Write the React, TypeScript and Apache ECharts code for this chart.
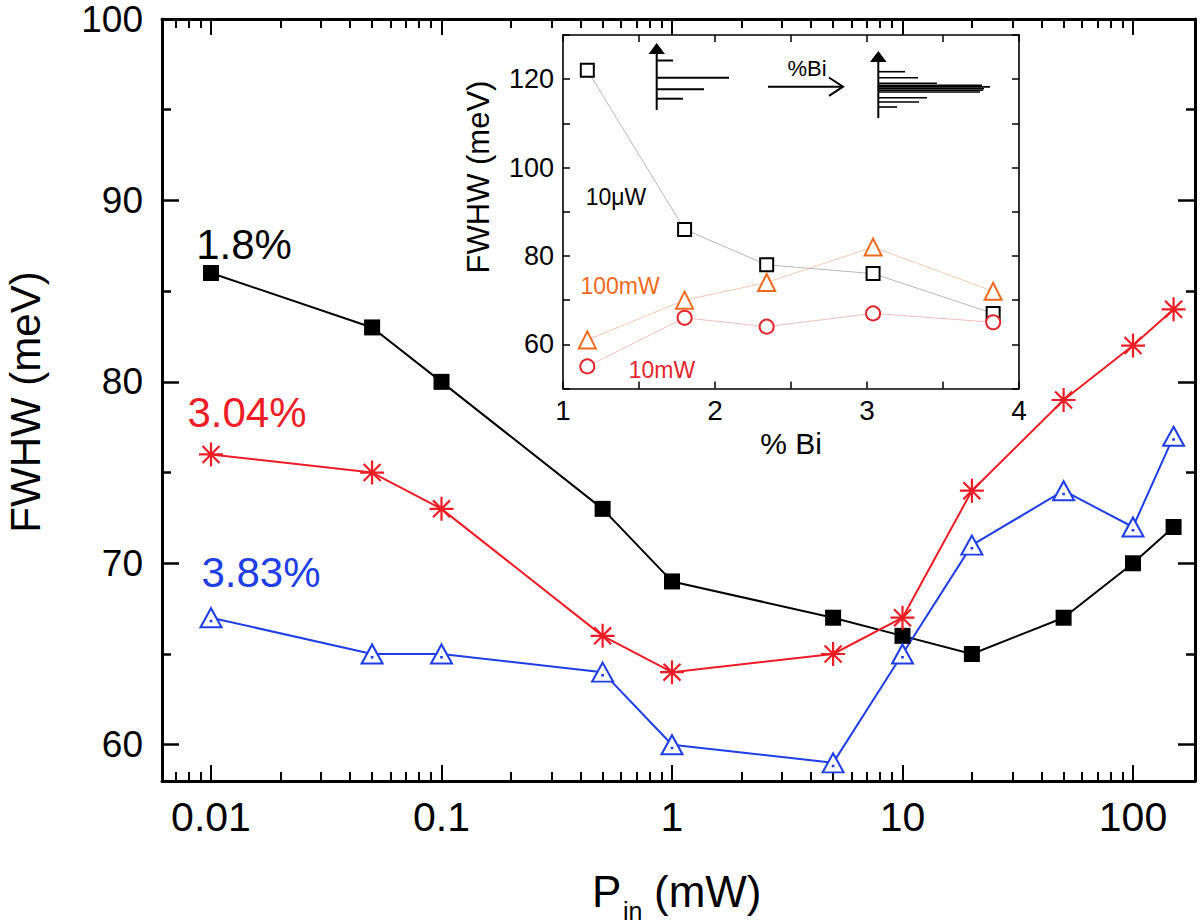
import React, { useEffect, useRef } from 'react';
import * as echarts from 'echarts';

// ---- main plot data ----
const powerMW = [0.01, 0.05, 0.1, 0.5, 1, 5, 10, 20, 50, 100, 150];
const fwhm18 = [86, 83, 80, 73, 69, 67, 66, 65, 67, 70, 72];
const fwhm304 = [76, 75, 73, 66, 64, 65, 67, 74, 79, 82, 84];
const fwhm383 = [67, 65, 65, 64, 60, 59, 65, 71, 74, 72, 77];
const seriesNames = ['1.8%', '3.04%', '3.83%'];

// ---- inset data ----
const biPercent = [1.16, 1.8, 2.34, 3.04, 3.83];
const inset10uW = [122, 86, 78, 76, 67];
const inset100mW = [61, 70, 74, 82, 72];
const inset10mW = [55, 66, 64, 67, 65];
const insetNames = ['10\u03bcW', '100mW', '10mW'];

// ---- tick labels ----
const xTickValues = [0.01, 0.1, 1, 10, 100];
const xTickLabels = ['0.01', '0.1', '1', '10', '100'];
const yMajorTicks = [60, 70, 80, 90, 100];
const yMinorTicks = [65, 75, 85, 95];
const insetYLabels = [60, 80, 100, 120];
const insetXLabels = [1, 2, 3, 4];

const FONT = "'Liberation Sans', Arial, Helvetica, sans-serif";
const BLACK = '#000000';
const RED = '#ee1c25';
const BLUE = '#1f3fe6';
const ORANGE = '#f06a1e';
const IRED = '#e3262c';

const X_MIN = -2.2126;
const X_MAX = 2.269;
const lg = (v: number) => Math.log10(v);

const xMinor: number[] = [];
[0.001, 0.01, 0.1, 1, 10, 100].forEach((d) => {
  for (let k = 2; k <= 9; k++) {
    const v = lg(k * d);
    if (v > X_MIN && v < X_MAX) xMinor.push(v);
  }
});

const fmtX = (v: number) => {
  const i = xTickValues.findIndex((t) => Math.abs(lg(t) - v) < 1e-6);
  return i >= 0 ? xTickLabels[i] : '';
};

const STAR = 'path://M0,-10L0,10M-10,0L10,0M-7.07,-7.07L7.07,7.07M-7.07,7.07L7.07,-7.07';
const TRI = 'path://M0,0L11,19L-11,19Z M-0.3,12.4L0.3,12.4L0.3,13L-0.3,13Z';

function mainX(position: string, minor: boolean, labels: boolean) {
  return {
    type: 'value', gridIndex: 0, position, min: X_MIN, max: X_MAX,
    axisLine: { show: !minor, onZero: false, lineStyle: { color: BLACK, width: 3 } },
    axisTick: {
      show: true, inside: true, length: minor ? 9 : 16,
      lineStyle: { color: BLACK, width: 2 },
      customValues: minor ? xMinor : xTickValues.map(lg),
    },
    axisLabel: {
      show: labels, customValues: xTickValues.map(lg), formatter: fmtX,
      color: BLACK, fontSize: 41, fontFamily: FONT, margin: 15,
    },
    splitLine: { show: false },
  };
}

function mainY(position: string, minor: boolean, labels: boolean) {
  return {
    type: 'value', gridIndex: 0, position, min: 58, max: 100,
    axisLine: { show: !minor, onZero: false, lineStyle: { color: BLACK, width: 3 } },
    axisTick: {
      show: true, inside: true, length: minor ? 9 : 17,
      lineStyle: { color: BLACK, width: 2.5 },
      customValues: minor ? yMinorTicks : yMajorTicks,
    },
    axisLabel: {
      show: labels, customValues: yMajorTicks,
      color: BLACK, fontSize: 37, lineHeight: 30, fontFamily: FONT, margin: 19,
    },
    splitLine: { show: false },
  };
}

function insetX(position: string, labels: boolean) {
  return {
    type: 'value', gridIndex: 1, position, min: 1, max: 4, interval: 0.5,
    axisLine: { show: true, onZero: false, lineStyle: { color: BLACK, width: 1.6 } },
    axisTick: { show: true, inside: true, length: 7, lineStyle: { color: BLACK, width: 1.5 } },
    axisLabel: {
      show: labels,
      formatter: (v: number) => (insetXLabels.includes(v) ? String(v) : ''),
      color: BLACK, fontSize: 28, fontFamily: FONT, margin: 8,
    },
    splitLine: { show: false },
  };
}

function insetY(position: string, labels: boolean) {
  return {
    type: 'value', gridIndex: 1, position, min: 50, max: 130, interval: 10,
    axisLine: { show: true, onZero: false, lineStyle: { color: BLACK, width: 1.6 } },
    axisTick: { show: true, inside: true, length: 7, lineStyle: { color: BLACK, width: 1.5 } },
    axisLabel: {
      show: labels,
      formatter: (v: number) => (insetYLabels.includes(v) ? String(v) : ''),
      color: BLACK, fontSize: 27, fontFamily: FONT, margin: 9,
    },
    splitLine: { show: false },
  };
}

function txt(x: number, y: number, text: string, size: number, color: string, extra: any = {}, align = 'center') {
  return {
    type: 'text', x, y, z: 20,
    style: { text, fill: color, fontSize: size, fontFamily: FONT, align, verticalAlign: 'middle' },
    ...extra,
  };
}

function ln(x1: number, y1: number, x2: number, y2: number, w = 2) {
  return { type: 'line', z: 20, shape: { x1, y1, x2, y2 }, style: { stroke: BLACK, lineWidth: w } };
}

function buildGraphic() {
  const g: any[] = [];
  // axis titles
  g.push(txt(25, 402, 'FWHW (meV)', 42, BLACK, { rotation: Math.PI / 2 }));
  g.push(txt(592, 891, 'P', 44, BLACK, {}, 'left'));
  g.push(txt(623, 911, 'in', 25, BLACK, {}, 'left'));
  g.push(txt(654, 891, '(mW)', 44, BLACK, {}, 'left'));
  // series annotations
  g.push(txt(244, 244, seriesNames[0], 42, BLACK));
  g.push(txt(247, 412, seriesNames[1], 42, RED));
  g.push(txt(261, 572, seriesNames[2], 42, BLUE));
  // inset titles / annotations
  g.push(txt(478, 177, 'FWHW (meV)', 31, BLACK, { rotation: Math.PI / 2 }));
  g.push(txt(791, 443, '% Bi', 30, BLACK));
  g.push(txt(616, 197, insetNames[0], 23, BLACK));
  g.push(txt(620, 286, insetNames[1], 23, ORANGE));
  g.push(txt(662, 370, insetNames[2], 23, IRED));
  // schematic: left stick spectrum
  g.push(ln(656.7, 110, 656.7, 52));
  g.push({ type: 'polygon', z: 20, shape: { points: [[656.7, 43], [648.5, 54], [664.9, 54]] }, style: { fill: BLACK } });
  g.push(ln(656.7, 60.5, 673, 60.5));
  g.push(ln(656.7, 77.7, 729, 77.7));
  g.push(ln(656.7, 89.3, 704, 89.3));
  g.push(ln(656.7, 98.7, 683, 98.7));
  // arrow with %Bi
  g.push(ln(768, 86.7, 842, 86.7));
  g.push({ type: 'polyline', z: 20, shape: { points: [[829, 77.5], [843, 86.7], [829, 95.9]] }, style: { stroke: BLACK, lineWidth: 2, fill: 'none' } });
  g.push(txt(807, 68, '%Bi', 22, BLACK));
  // right stick spectrum
  g.push(ln(878.3, 118, 878.3, 60));
  g.push({ type: 'polygon', z: 20, shape: { points: [[878.3, 51], [870, 62], [886.6, 62]] }, style: { fill: BLACK } });
  const right: [number, number][] = [
    [71.7, 905], [77.7, 918], [83.3, 937], [85.2, 982], [86.9, 990],
    [88.6, 984], [90.3, 983], [92.0, 980], [97.7, 927], [102, 919], [107, 897],
  ];
  right.forEach(([y, xe]) => g.push(ln(878.3, y, xe, y, 1.6)));
  return g;
}

function buildOption() {
  const mainData = (vals: number[]) => powerMW.map((p, i) => [lg(p), vals[i]]);
  const insetData = (vals: number[]) => biPercent.map((b, i) => [b, vals[i]]);
  return {
    animation: false,
    backgroundColor: '#ffffff',
    grid: [
      { left: 162, right: 5, top: 19, bottom: 143 },
      { left: 563, width: 456, top: 35, height: 353.5, show: true, backgroundColor: '#ffffff', borderWidth: 0 },
    ],
    xAxis: [
      mainX('bottom', false, true),
      mainX('bottom', true, false),
      mainX('top', false, false),
      mainX('top', true, false),
      insetX('bottom', true),
      insetX('top', false),
    ],
    yAxis: [
      mainY('left', false, true),
      mainY('left', true, false),
      mainY('right', false, false),
      mainY('right', true, false),
      insetY('left', true),
      insetY('right', false),
    ],
    series: [
      {
        name: seriesNames[0], type: 'line', xAxisIndex: 0, yAxisIndex: 0,
        data: mainData(fwhm18), symbol: 'rect', symbolSize: 16,
        itemStyle: { color: BLACK }, lineStyle: { color: BLACK, width: 2 }, z: 3,
      },
      {
        name: seriesNames[1], type: 'line', xAxisIndex: 0, yAxisIndex: 0,
        data: mainData(fwhm304), symbol: STAR, symbolSize: 24,
        itemStyle: { color: RED, borderColor: RED, borderWidth: 2.2 }, lineStyle: { color: RED, width: 2 }, z: 3,
      },
      {
        name: seriesNames[2], type: 'line', xAxisIndex: 0, yAxisIndex: 0,
        data: mainData(fwhm383), symbol: TRI, symbolSize: [21, 19],
        itemStyle: { color: '#ffffff', borderColor: BLUE, borderWidth: 2 }, lineStyle: { color: BLUE, width: 2 }, z: 3,
      },
      {
        name: insetNames[0], type: 'line', xAxisIndex: 4, yAxisIndex: 4,
        data: insetData(inset10uW), symbol: 'emptyRect', symbolSize: 13,
        itemStyle: { color: BLACK, borderWidth: 1.6 }, lineStyle: { color: '#9a9a9a', width: 0.7 }, z: 4,
      },
      {
        name: insetNames[1], type: 'line', xAxisIndex: 4, yAxisIndex: 4,
        data: insetData(inset100mW), symbol: 'emptyTriangle', symbolSize: 17,
        itemStyle: { color: ORANGE, borderWidth: 1.6 }, lineStyle: { color: '#f5b28c', width: 0.7 }, z: 4,
      },
      {
        name: insetNames[2], type: 'line', xAxisIndex: 4, yAxisIndex: 4,
        data: insetData(inset10mW), symbol: 'emptyCircle', symbolSize: 14,
        itemStyle: { color: IRED, borderWidth: 1.6 }, lineStyle: { color: '#f2a2a5', width: 0.7 }, z: 4,
      },
    ],
    graphic: buildGraphic(),
  };
}

export default function App() {
  const ref = useRef<HTMLDivElement>(null);
  useEffect(() => {
    if (!ref.current) return;
    const chart = echarts.init(ref.current, undefined, { renderer: 'svg' });
    chart.setOption(buildOption() as any);
    return () => chart.dispose();
  }, []);
  return (
    <div
      ref={ref}
      style={{ position: 'absolute', left: 0, top: 0, width: 1200, height: 924, background: '#fff' }}
    />
  );
}
